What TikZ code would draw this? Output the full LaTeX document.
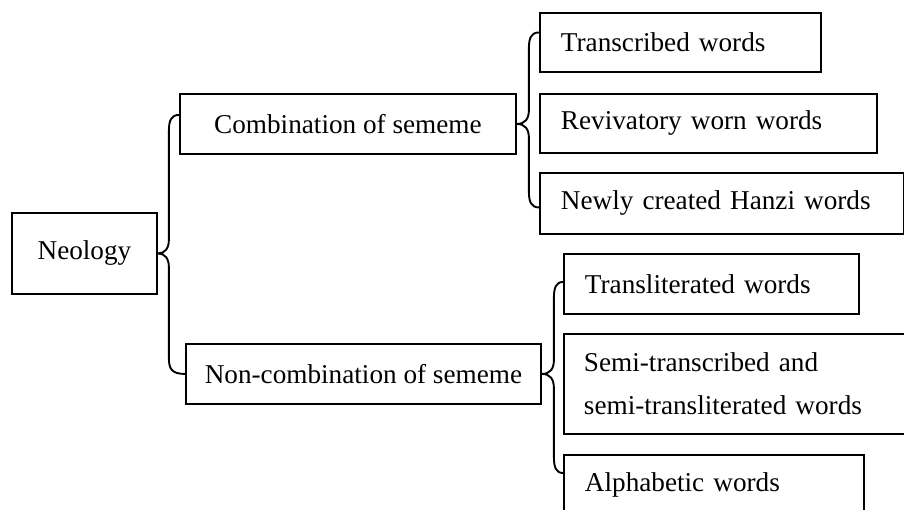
\documentclass[tikz,border=0pt]{standalone}
\usepackage{fontspec}
\setmainfont{Liberation Serif}
\usetikzlibrary{calc}
\tikzset{
  box/.style={draw, line width=1.9pt, anchor=north west, inner sep=0pt,
    font=\fontsize{27.2}{43}\selectfont},
  cbox/.style={box, align=center},
  lbox/.style={box, align=left, inner xsep=21pt},
  brc/.style={draw, line width=1.9pt, line cap=round, line join=round},
}
\newcommand\mybrace[4]{%
  \draw[brc] let \p1=(#1), \p2=(#2), \p3=(#3) in
   (\p2) .. controls (\x1+#4+2pt,\y2) and (\x1+#4,\y2-6pt) .. (\x1+#4,\y2-16pt)
   -- (\x1+#4,\y1+14pt) .. controls (\x1+#4,\y1+5pt) and (\x1+#4-4pt,\y1) .. (\p1)
   .. controls (\x1+#4-4pt,\y1) and (\x1+#4,\y1-5pt) .. (\x1+#4,\y1-14pt)
   -- (\x1+#4,\y3+16pt) .. controls (\x1+#4,\y3+6pt) and (\x1+#4+2pt,\y3) .. (\p3);}
\begin{document}
\begin{tikzpicture}[x=1pt,y=-1pt]
\useasboundingbox (0,0) rectangle (904,510);
\node[cbox, minimum width=145pt, minimum height=81pt] (neo) at (11,212) {Neology};
\node[cbox, minimum width=336pt, minimum height=60pt] (comb) at (179,93) {Combination of sememe};
\node[cbox, minimum width=355pt, minimum height=60pt] (noncomb) at (185,343) {Non-combination of sememe};
\node[lbox, text width=239pt, minimum height=59pt] (trans) at (539,12) {Transcribed words};
\node[lbox, text width=295pt, minimum height=59pt] (reviv) at (539,93) {Revivatory worn words};
\node[lbox, text width=322pt, minimum height=61pt] (newly) at (539,172) {Newly created Hanzi words};
\node[lbox, text width=253pt, minimum height=60pt] (translit) at (563,253) {Transliterated words};
\node[lbox, text width=320pt, minimum height=100pt, inner xsep=20pt] (semi) at (563,333) {Semi-transcribed and\\semi-transliterated words};
\node[lbox, text width=258pt, minimum height=60pt] (alpha) at (563,454) {Alphabetic words};
\coordinate (neoT) at ($(comb.west)+(0,-9)$);
\coordinate (neoB) at (noncomb.west);
\coordinate (combT) at ($(trans.west)+(0,-10)$);
\coordinate (combB) at ($(newly.west)+(0,4)$);
\coordinate (ncT) at ($(translit.west)+(0,-2)$);
\coordinate (ncB) at ($(alpha.north west)+(0,19)$);
\mybrace{neo.east}{neoT}{neoB}{11pt}
\mybrace{comb.east}{combT}{combB}{12pt}
\mybrace{noncomb.east}{ncT}{ncB}{12pt}
\end{tikzpicture}
\end{document}
